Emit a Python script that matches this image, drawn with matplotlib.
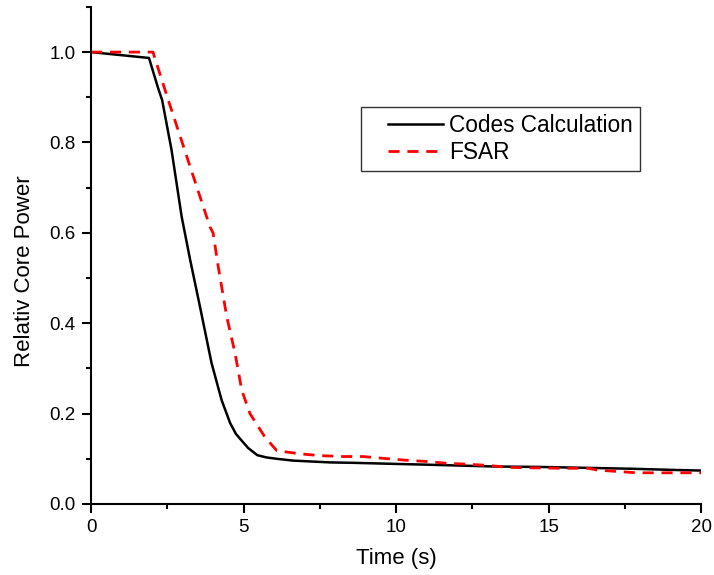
import matplotlib
matplotlib.use("Agg")
import matplotlib.pyplot as plt
from matplotlib.ticker import MultipleLocator, FormatStrFormatter
from matplotlib.legend_handler import HandlerLine2D

plt.rcParams['font.family'] = ['Liberation Sans', 'DejaVu Sans']

# Codes Calculation (solid black)
t_code = [0, 1.9, 2.2, 2.33, 2.64, 2.97, 3.25, 3.57, 3.95, 4.28, 4.56, 4.75,
          4.98, 5.15, 5.45, 5.75, 6.09, 6.62, 7.84, 8.66, 9.8, 11, 12.1, 13.18,
          14.7, 16.2, 17.7, 19.3, 20]
p_code = [1.0, 0.987, 0.92, 0.894, 0.783, 0.636, 0.54, 0.437, 0.312, 0.23,
          0.179, 0.155, 0.137, 0.124, 0.108, 0.103, 0.1, 0.096, 0.092, 0.091,
          0.089, 0.087, 0.085, 0.083, 0.082, 0.08, 0.078, 0.075, 0.074]

# FSAR (dashed red)
t_fsar = [0, 2.03, 2.55, 3.25, 3.9, 4.0, 4.17, 4.45, 4.72, 4.94, 5.21, 5.7,
          6.09, 6.85, 7.5, 8.27, 8.92, 9.58, 10.3, 11, 11.66, 12.36, 13.08,
          13.67, 14.5, 15.5, 16.3, 16.6, 17.9, 19, 20]
p_fsar = [1.0, 1.0, 0.89, 0.746, 0.613, 0.6, 0.525, 0.414, 0.334, 0.252, 0.2,
          0.148, 0.118, 0.111, 0.107, 0.105, 0.105, 0.101, 0.097, 0.094, 0.09,
          0.088, 0.085, 0.081, 0.08, 0.079, 0.079, 0.075, 0.069, 0.069, 0.069]

fig = plt.figure(figsize=(7.14, 5.75), dpi=100)
ax = fig.add_axes([0.1275, 0.1235, 0.8545, 0.8645])

ax.plot(t_code, p_code, color='black', lw=1.8, label='Codes Calculation')
ax.plot(t_fsar, p_fsar, color='red', lw=2.0, ls=(0, (4, 2.8)), label='FSAR')

ax.set_xlim(0, 20)
ax.set_ylim(0, 1.1)
ax.xaxis.set_major_locator(MultipleLocator(5))
ax.xaxis.set_minor_locator(MultipleLocator(2.5))
ax.yaxis.set_major_locator(MultipleLocator(0.2))
ax.yaxis.set_minor_locator(MultipleLocator(0.1))
ax.yaxis.set_major_formatter(FormatStrFormatter('%.1f'))

for s in ['top', 'right']:
    ax.spines[s].set_visible(False)
for s in ['left', 'bottom']:
    ax.spines[s].set_linewidth(1.5)

ax.tick_params(which='major', direction='out', length=6.5, width=1.5,
               labelsize=13.5, pad=4.5)
ax.tick_params(which='minor', direction='out', length=3.5, width=1.5)

ax.set_xlabel('Time (s)', fontsize=16)
ax.set_ylabel('Relativ Core Power', fontsize=16)
ax.xaxis.set_label_coords(0.5, -0.088)
ax.yaxis.set_label_coords(-0.092, 0.469)

leg = ax.legend(loc='upper left', bbox_to_anchor=(0.4426, 0.7988), fontsize=16.3,
                frameon=True, fancybox=False, edgecolor='black',
                handlelength=3.3, borderpad=0.3, labelspacing=0.2,
                handletextpad=0.3, borderaxespad=0,
                handler_map={matplotlib.lines.Line2D: HandlerLine2D(xpad=0.9)})
leg.get_frame().set_linewidth(1.0)

fig.savefig('out.png', dpi=100)
